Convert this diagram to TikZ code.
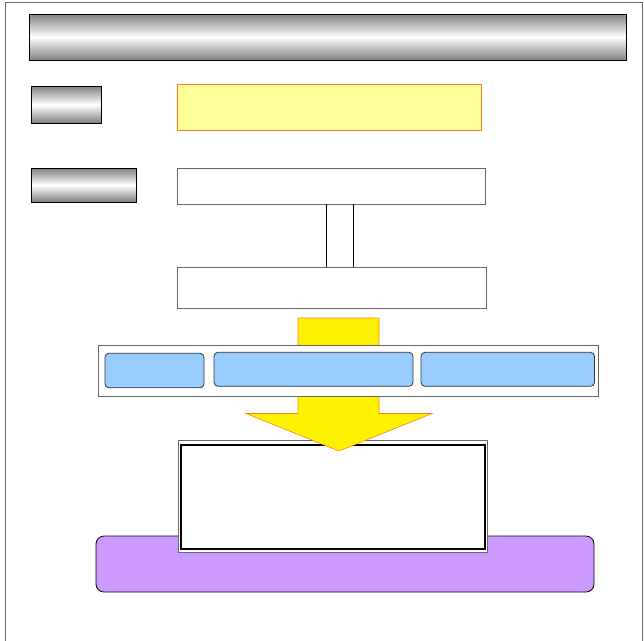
\documentclass[tikz,border=0pt]{standalone}
\usetikzlibrary{calc}
\definecolor{paleyellow}{HTML}{FFFF99}
\definecolor{orangeline}{HTML}{FF7F1F}
\definecolor{lightblue}{HTML}{99CCFF}
\definecolor{lilac}{HTML}{CC99FF}
\definecolor{framegray}{HTML}{666666}
\tikzset{
  box/.style={rectangle,inner sep=0pt,outer sep=0pt},
  metal/.style={box,draw=black,line width=0.8pt,top color=black!50,bottom color=black!50,middle color=white},
  plainbox/.style={box,draw=framegray,line width=1pt,fill=white},
  bluebox/.style={box,draw=black!80,line width=0.8pt,fill=lightblue,rounded corners=4pt},
}
\begin{document}
\begin{tikzpicture}[x=1pt,y=-1pt]
\useasboundingbox (0,0) rectangle (644,640);
% outer frame
\draw[framegray,line width=1pt] (5,642) |- (642,2) -- (642,642);
% title bar
\node[metal,minimum width=597pt,minimum height=46pt] (title) at (327.5,37) {};
% left labels
\node[metal,minimum width=70pt,minimum height=37pt] (lab1) at (66,104.5) {};
\node[metal,minimum width=105pt,minimum height=34pt] (lab2) at (83.5,185) {};
% yellow box
\node[box,draw=orangeline,line width=0.8pt,fill=paleyellow,minimum width=304pt,minimum height=46pt] (ybox) at (329,107) {};
% white boxes
\node[plainbox,minimum width=308pt,minimum height=36pt] (wbox1) at (331,186) {};
\node[plainbox,minimum width=309pt,minimum height=41pt] (wbox2) at (331.5,287.5) {};
% pipe between white boxes
\draw[black,line width=0.8pt] (326,0 |- wbox1.south) -- (326,0 |- wbox2.north);
\draw[black,line width=0.8pt] (353,0 |- wbox1.south) -- (353,0 |- wbox2.north);
% purple base
\node[box,draw=black,line width=0.8pt,fill=lilac,rounded corners=8pt,minimum width=498pt,minimum height=56pt] (base) at (345,564) {};
% double-framed box
\node[box,draw=framegray,line width=0.8pt,fill=white,minimum width=309pt,minimum height=112pt] (dbox) at (332.5,496.5) {};
\draw[black,line width=1.6pt] (181,445) rectangle (485,549);
% yellow block arrow
\draw[orangeline,line width=0.6pt,fill=yellow,line join=miter]
  (298,318) -- (379,318) -- (379,413.5) -- (432,413.5) -- (339,451) -- (246,413.5) -- (298,413.5) -- cycle;
% band with blue boxes
\node[plainbox,minimum width=500pt,minimum height=51pt] (band) at (348,370.5) {};
\node[bluebox,minimum width=99pt,minimum height=34.5pt] (b1) at (154.5,370.5) {};
\node[bluebox,minimum width=199pt,minimum height=34pt] (b2) at (313.5,369.3) {};
\node[bluebox,minimum width=173.5pt,minimum height=34pt] (b3) at (507.8,369.3) {};
\end{tikzpicture}
\end{document}
